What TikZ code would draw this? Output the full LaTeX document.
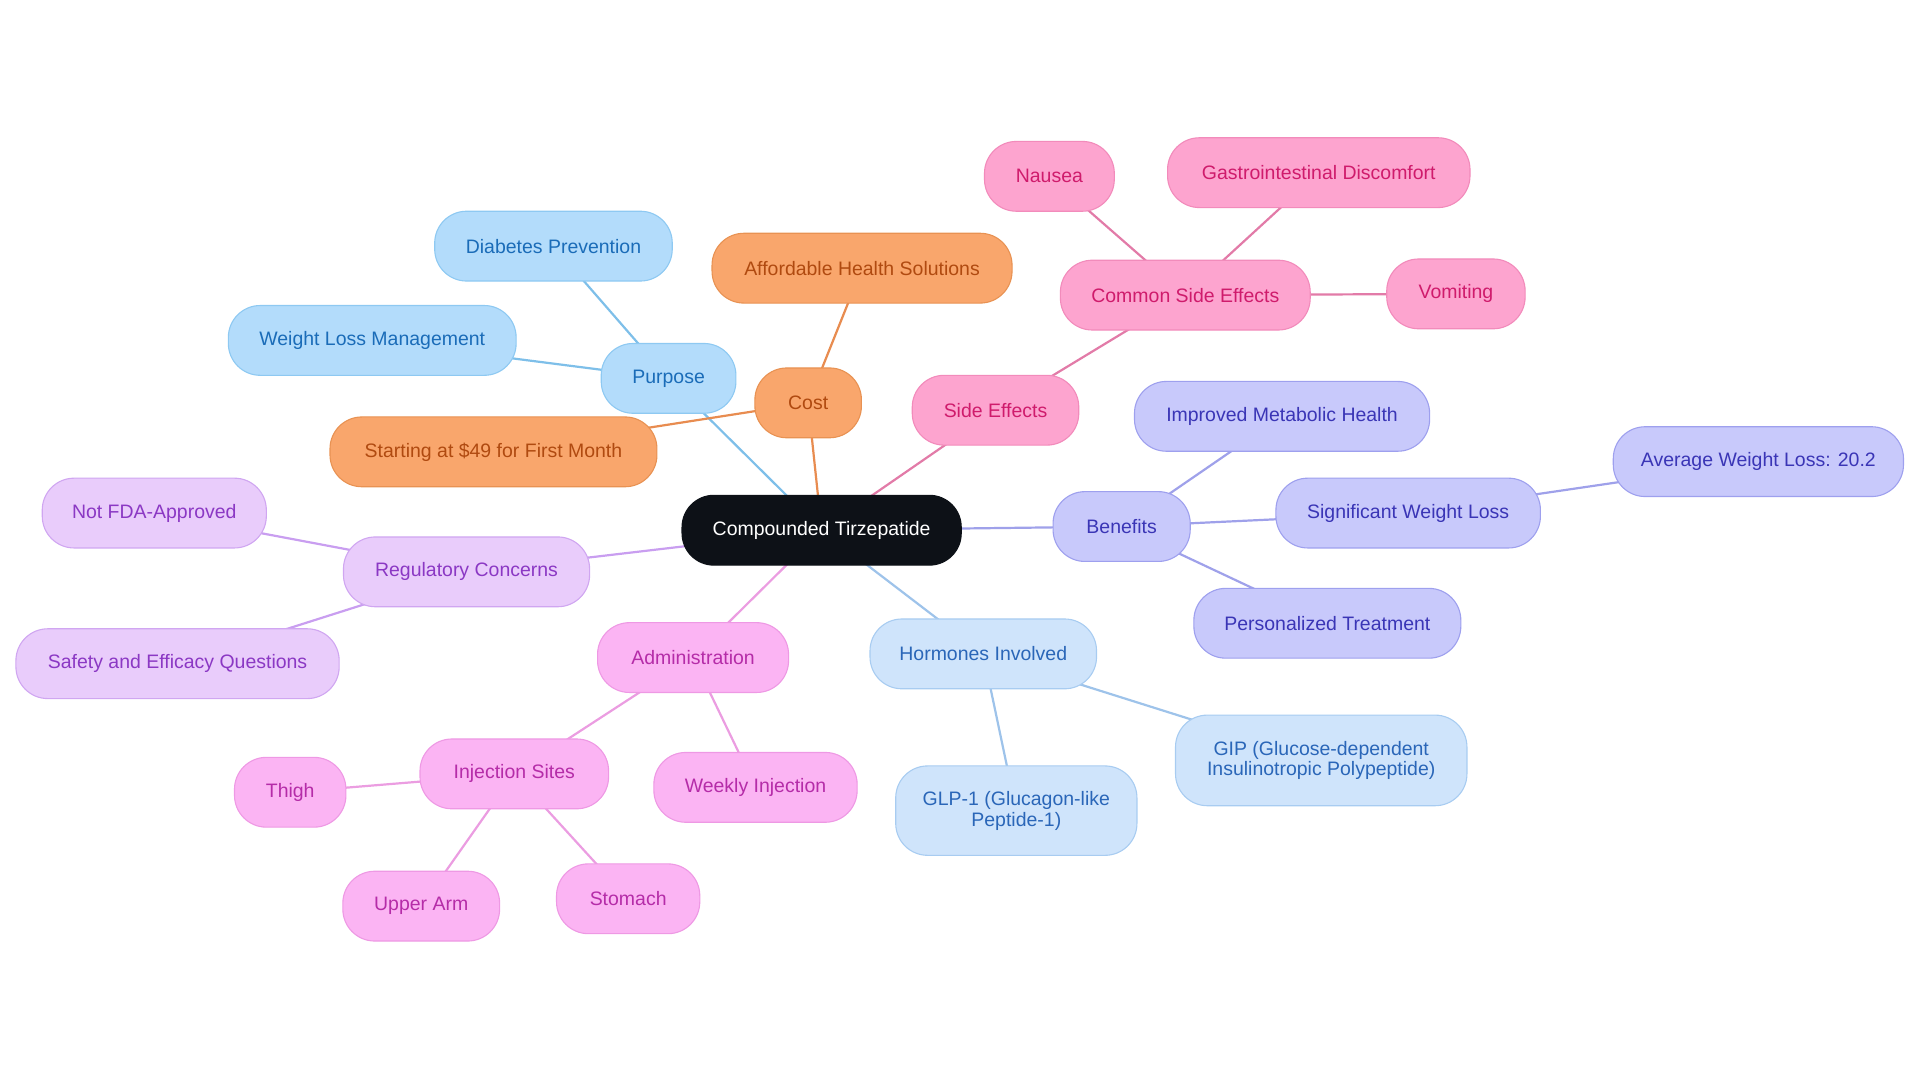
\documentclass[tikz,border=0pt]{standalone}
\usepackage{fontspec}
\setmainfont{Liberation Sans}
\usetikzlibrary{backgrounds}
\definecolor{rootF}{HTML}{0D1117}
\definecolor{blueF}{HTML}{B3DCFB}\definecolor{blueD}{HTML}{8EC9F2}\definecolor{blueT}{HTML}{1A6CB8}\definecolor{blueL}{HTML}{7EBFE9}
\definecolor{orF}{HTML}{F9A66C}\definecolor{orD}{HTML}{E89253}\definecolor{orT}{HTML}{B04A10}\definecolor{orL}{HTML}{E88C50}
\definecolor{pkF}{HTML}{FDA4CF}\definecolor{pkD}{HTML}{F28BBB}\definecolor{pkT}{HTML}{CF1B6C}\definecolor{pkL}{HTML}{E27BA8}
\definecolor{lvF}{HTML}{C8C9FB}\definecolor{lvD}{HTML}{9EA0EE}\definecolor{lvT}{HTML}{3A35B6}\definecolor{lvL}{HTML}{9FA1EA}
\definecolor{hbF}{HTML}{CFE4FB}\definecolor{hbD}{HTML}{A8CCF1}\definecolor{hbT}{HTML}{2A66B8}\definecolor{hbL}{HTML}{9EC3EA}
\definecolor{adF}{HTML}{FBB4F3}\definecolor{adD}{HTML}{EE99E4}\definecolor{adT}{HTML}{B52CA8}\definecolor{adL}{HTML}{EB9DE1}
\definecolor{rgF}{HTML}{E9CCFB}\definecolor{rgD}{HTML}{D0A6F1}\definecolor{rgT}{HTML}{8B38C4}\definecolor{rgL}{HTML}{C99EF0}
\begin{document}
\begin{tikzpicture}[x=1pt,y=-1pt,
  box/.style={rounded corners=26pt, draw, line width=0.9pt, font=\fontsize{15.9}{17}\selectfont, minimum height=57pt, align=center, inner sep=0pt},
  rootbox/.style={box, fill=rootF, draw=rootF, text=white},
  bluebox/.style={box, fill=blueF, draw=blueD, text=blueT},
  orbox/.style={box, fill=orF, draw=orD, text=orT},
  pkbox/.style={box, fill=pkF, draw=pkD, text=pkT},
  lvbox/.style={box, fill=lvF, draw=lvD, text=lvT},
  hbbox/.style={box, fill=hbF, draw=hbD, text=hbT},
  adbox/.style={box, fill=adF, draw=adD, text=adT},
  rgbox/.style={box, fill=rgF, draw=rgD, text=rgT},
  link/.style={line width=1.8pt}
]
\useasboundingbox (0,0) rectangle (1568,884);
\node[rootbox, minimum width=228pt] (root) at (671,433) {Compounded Tirzepatide};
% Purpose
\node[bluebox, minimum width=110pt] (pur) at (546,309) {Purpose};
\node[bluebox, minimum width=194pt] (dia) at (452,201) {Diabetes Prevention};
\node[bluebox, minimum width=235pt] (wlm) at (304,278) {Weight Loss Management};
% Cost
\node[orbox, minimum width=87pt] (cost) at (660,329) {Cost};
\node[orbox, minimum width=245pt] (aff) at (704,219) {Affordable Health Solutions};
\node[orbox, minimum width=267pt] (sta) at (403,369) {Starting at \$49 for First Month};
% Side effects
\node[pkbox, minimum width=136pt] (se) at (813,335) {Side Effects};
\node[pkbox, minimum width=204pt] (cse) at (968,241) {Common Side Effects};
\node[pkbox, minimum width=106pt] (nau) at (857,144) {Nausea};
\node[pkbox, minimum width=247pt] (gas) at (1077,141) {Gastrointestinal Discomfort};
\node[pkbox, minimum width=113pt] (vom) at (1189,240) {Vomiting};
% Benefits
\node[lvbox, minimum width=112pt] (ben) at (916,430) {Benefits};
\node[lvbox, minimum width=241pt] (imp) at (1047,340) {Improved Metabolic Health};
\node[lvbox, minimum width=216pt] (swl) at (1150,419) {Significant Weight Loss};
\node[lvbox, minimum width=237pt] (avg) at (1436,377) {Average Weight Loss: 20.2};
\node[lvbox, minimum width=218pt] (per) at (1084,509) {Personalized Treatment};
% Hormones
\node[hbbox, minimum width=185pt] (hor) at (803,534) {Hormones Involved};
\node[hbbox, minimum width=197pt, minimum height=73pt] (glp) at (830,662) {GLP-1 (Glucagon-like\\Peptide-1)};
\node[hbbox, minimum width=238pt, minimum height=74pt] (gip) at (1079,621) {GIP (Glucose-dependent\\Insulinotropic Polypeptide)};
% Administration
\node[adbox, minimum width=156pt] (adm) at (566,537) {Administration};
\node[adbox, minimum width=154pt] (inj) at (420,632) {Injection Sites};
\node[adbox, minimum width=166pt] (wk) at (617,643) {Weekly Injection};
\node[adbox, minimum width=91pt] (thi) at (237,647) {Thigh};
\node[adbox, minimum width=128pt] (upa) at (344,740) {Upper Arm};
\node[adbox, minimum width=117pt] (sto) at (513,734) {Stomach};
% Regulatory
\node[rgbox, minimum width=201pt] (reg) at (381,467) {Regulatory Concerns};
\node[rgbox, minimum width=183pt] (nfa) at (126,419) {Not FDA-Approved};
\node[rgbox, minimum width=264pt] (saf) at (145,542) {Safety and Efficacy Questions};
\begin{scope}[on background layer]
\draw[link, blueL] (root.center) -- (pur.center);
\draw[link, blueL] (pur.center) -- (dia.center);
\draw[link, blueL] (pur.center) -- (wlm.center);
\draw[link, orL] (root.center) -- (cost.center);
\draw[link, orL] (cost.center) -- (aff.center);
\draw[link, orL] (cost.center) -- (sta.center);
\draw[link, pkL] (root.center) -- (se.center);
\draw[link, pkL] (se.center) -- (cse.center);
\draw[link, pkL] (cse.center) -- (nau.center);
\draw[link, pkL] (cse.center) -- (gas.center);
\draw[link, pkL] (cse.center) -- (vom.center);
\draw[link, lvL] (root.center) -- (ben.center);
\draw[link, lvL] (ben.center) -- (imp.center);
\draw[link, lvL] (ben.center) -- (swl.center);
\draw[link, lvL] (swl.center) -- (avg.center);
\draw[link, lvL] (ben.center) -- (per.center);
\draw[link, hbL] (root.center) -- (hor.center);
\draw[link, hbL] (hor.center) -- (glp.center);
\draw[link, hbL] (hor.center) -- (gip.center);
\draw[link, adL] (root.center) -- (adm.center);
\draw[link, adL] (adm.center) -- (inj.center);
\draw[link, adL] (adm.center) -- (wk.center);
\draw[link, adL] (inj.center) -- (thi.center);
\draw[link, adL] (inj.center) -- (upa.center);
\draw[link, adL] (inj.center) -- (sto.center);
\draw[link, rgL] (root.center) -- (reg.center);
\draw[link, rgL] (reg.center) -- (nfa.center);
\draw[link, rgL] (reg.center) -- (saf.center);
\end{scope}
\end{tikzpicture}
\end{document}
